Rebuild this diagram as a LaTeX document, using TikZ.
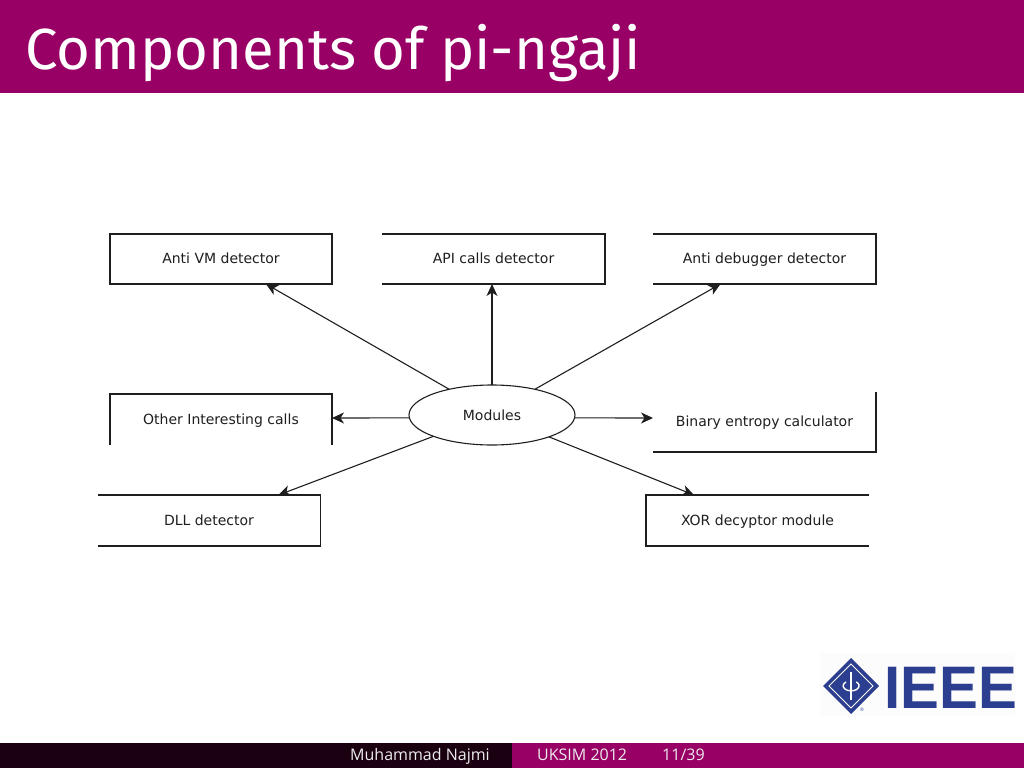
\documentclass[tikz,border=0pt]{standalone}
\usepackage{fontspec}
\usepackage{xcolor}
\usetikzlibrary{positioning, arrows.meta, shapes.geometric}
\setmainfont{Fira Sans}
\newfontfamily\boxfont{DejaVu Sans}
\newfontfamily\barfont{Open Sans}
\newfontfamily\logofont{Liberation Sans}
\definecolor{slidepurple}{RGB}{153,0,102}
\definecolor{footdark}{RGB}{26,0,16}
\definecolor{ieeeblue}{RGB}{43,62,143}
\definecolor{linegray}{RGB}{30,30,30}

\begin{document}
\begin{tikzpicture}[
    x=1pt, y=-1pt,
    >={Stealth[length=12pt, width=11pt, inset=3.5pt]},
    modulebox/.style={minimum width=223pt, minimum height=#1, outer sep=0pt, inner sep=0pt, align=center, text height=11pt, text depth=2pt, text=linegray, font=\boxfont\fontsize{14}{16}\selectfont},
    modulebox/.default=50pt,
    hub/.style={draw=linegray, line width=1.1pt, ellipse, minimum width=166pt, minimum height=60pt, outer sep=0pt, inner sep=0pt, text=linegray, font=\boxfont\fontsize{14}{16}\selectfont},
    edge/.style={draw=linegray, line width=1.1pt},
    link/.style={edge, ->},
    bartext/.style={text=#1, inner sep=0pt, anchor=base west, font=\barfont\fontsize{16}{18}\selectfont}
]
\useasboundingbox (0,0) rectangle (1024,768);

% Title bar
\fill[slidepurple] (0,0) rectangle (1024,93);
\node[text=white, inner sep=0pt, anchor=base west, font=\fontsize{58}{60}\selectfont] (Title) at (25,70) {Components of pi-ngaji};

% Core
\node[hub] (Modules) at (492,415) {Modules};

% Boxes
\node[modulebox, above=101pt of Modules, xshift=1.5pt] (Api) {API calls detector};
\node[modulebox, minimum width=222pt, left=50pt of Api] (AntiVm) {Anti VM detector};
\node[modulebox, right=48pt of Api] (AntiDbg) {Anti debugger detector};
\node[modulebox=51pt, minimum width=222pt, below=110pt of AntiVm] (Other) {Other Interesting calls};
\node[modulebox=60pt, below=108pt of AntiDbg] (Binary) {Binary entropy calculator};
\node[modulebox=51pt, below=50pt of Other, xshift=-12pt] (Dll) {DLL detector};
\node[modulebox=51pt, below=43pt of Binary, xshift=-7pt] (Xor) {XOR decyptor module};

% Box outlines, some sides are missing
\draw[edge] (AntiVm.south west) rectangle (AntiVm.north east);
\draw[edge] (Api.north west) -- (Api.north east) -- (Api.south east) -- (Api.south west);
\draw[edge] (AntiDbg.north west) -- (AntiDbg.north east) -- (AntiDbg.south east) -- (AntiDbg.south west);
\draw[edge] (Other.south west) -- (Other.north west) -- (Other.north east) -- (Other.south east);
\draw[edge] (Binary.north east) -- (Binary.south east) -- (Binary.south west);
\draw[edge] (Dll.north west) -- (Dll.north east) -- (Dll.south east) -- (Dll.south west);
\draw[edge] (Xor.north east) -- (Xor.north west) -- (Xor.south west) -- (Xor.south east);

% Connections
\draw[link] (Modules.149) -- ([xshift=45pt]AntiVm.south);
\draw[link] (Modules.north) -- ([xshift=-1.5pt]Api.south);
\draw[link] (Modules.31) -- ([xshift=-44pt]AntiDbg.south);
\draw[link] (Modules.182) -- ([yshift=1.5pt]Other.east);
\draw[link] (Modules.358) -- ([yshift=4pt]Binary.west);
\draw[link] (Modules.200) -- ([xshift=69.5pt]Dll.north);
\draw[link] (Modules.339) -- ([xshift=-63.5pt]Xor.north);

% Logo
\fill[white!98!gray] (820,653) rectangle (1015,716);
\fill[ieeeblue] (851,658) -- (879,686) -- (851,714) -- (823,686) -- cycle;
\draw[white, line width=0.8pt] (851,664) -- (873,686) -- (851,708) -- (829,686) -- cycle;
\draw[white, line width=2.4pt] (851,672) -- (851,700);
\draw[white, line width=1.4pt] (846,682) arc[start angle=130, end angle=410, x radius=8pt, y radius=5pt];
\node[text=ieeeblue, inner sep=0pt, font=\logofont\fontsize{5}{5}\selectfont] (Mark) at (862,710) {\textregistered};
\node[text=ieeeblue, inner sep=0pt, anchor=base west, xscale=0.97, font=\logofont\bfseries\fontsize{60}{60}\selectfont] (Ieee) at (884,708) {IEEE};

% Footer
\fill[footdark] (0,743) rectangle (512,768);
\fill[slidepurple] (512,743) rectangle (1024,768);
\node[bartext=white!85!gray] (Author) at (350,760) {Muhammad Najmi};
\node[bartext=white!85!gray] (Event) at (537,760) {UKSIM 2012};
\node[bartext=white!85!gray] (Page) at (662,760) {11/39};

\end{tikzpicture}
\end{document}
